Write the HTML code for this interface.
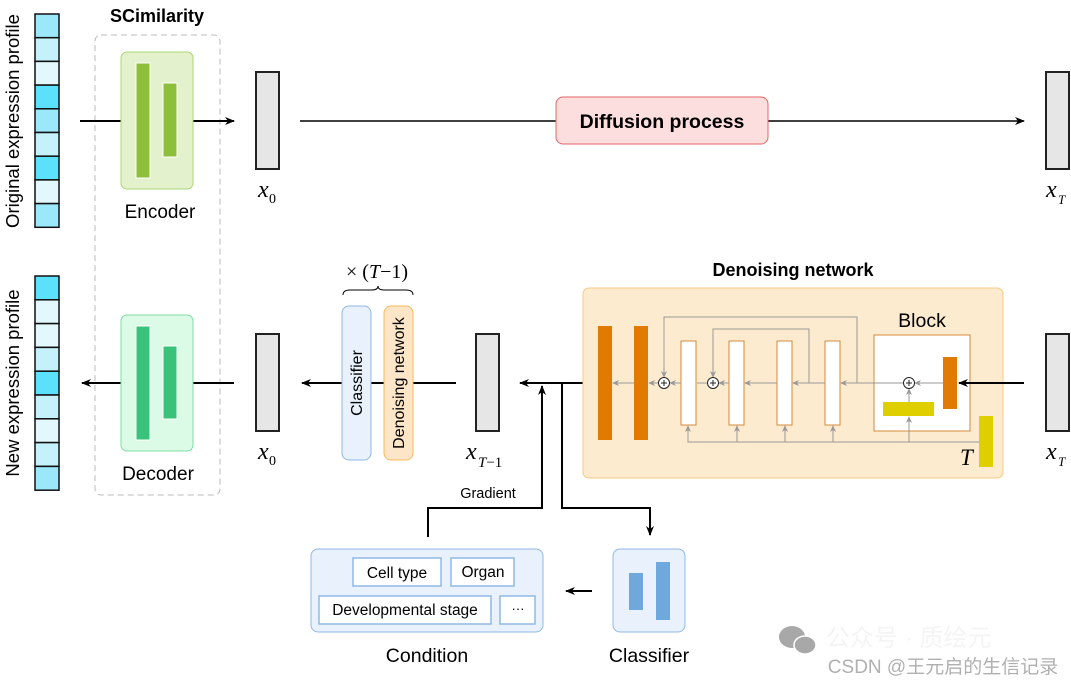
<!DOCTYPE html>
<html><head><meta charset="utf-8"><style>
html,body{margin:0;padding:0;background:#fff;}
svg{display:block;font-family:"Liberation Sans","Noto Sans CJK SC",sans-serif;}
.m{font-family:"Liberation Serif",serif;font-style:italic;}
</style></head><body>
<svg width="1071" height="685" viewBox="0 0 1071 685" xmlns="http://www.w3.org/2000/svg">
<defs>
<marker id="a" markerWidth="10" markerHeight="8" refX="9" refY="4" orient="auto" markerUnits="userSpaceOnUse"><path d="M0,0 L10,4 L0,8 L3,4 z" fill="#000"/></marker>
<marker id="g" markerWidth="7" markerHeight="6" refX="6" refY="3" orient="auto" markerUnits="userSpaceOnUse"><path d="M0,0 L7,3 L0,6 L2,3 z" fill="#999"/></marker>
</defs>
<g stroke="#111" stroke-width="1.5">
<rect x="35" y="14" width="24" height="23.7" fill="#9be8fa"/>
<rect x="35" y="37.7" width="24" height="23.7" fill="#c5f1fb"/>
<rect x="35" y="61.4" width="24" height="23.7" fill="#e2f8fd"/>
<rect x="35" y="85.1" width="24" height="23.7" fill="#5ce1fd"/>
<rect x="35" y="108.8" width="24" height="23.7" fill="#9be8fa"/>
<rect x="35" y="132.5" width="24" height="23.7" fill="#c5f1fb"/>
<rect x="35" y="156.2" width="24" height="23.7" fill="#5ce1fd"/>
<rect x="35" y="179.9" width="24" height="23.7" fill="#e2f8fd"/>
<rect x="35" y="203.6" width="24" height="23.7" fill="#9be8fa"/>
<rect x="35" y="276" width="24" height="23.8" fill="#5ce1fd"/>
<rect x="35" y="299.8" width="24" height="23.8" fill="#e2f8fd"/>
<rect x="35" y="323.6" width="24" height="23.8" fill="#e2f8fd"/>
<rect x="35" y="347.4" width="24" height="23.8" fill="#c5f1fb"/>
<rect x="35" y="371.2" width="24" height="23.8" fill="#5ce1fd"/>
<rect x="35" y="395" width="24" height="23.8" fill="#c5f1fb"/>
<rect x="35" y="418.8" width="24" height="23.8" fill="#e2f8fd"/>
<rect x="35" y="442.6" width="24" height="23.8" fill="#c5f1fb"/>
<rect x="35" y="466.4" width="24" height="23.8" fill="#9be8fa"/>
</g>
<text transform="translate(19,121) rotate(-90)" text-anchor="middle" font-size="18.5" fill="#000">Original expression profile</text>
<text transform="translate(19,383) rotate(-90)" text-anchor="middle" font-size="18.5" fill="#000">New expression profile</text>
<rect x="95" y="35" width="125" height="460" rx="6" fill="none" stroke="#bbb" stroke-width="1" stroke-dasharray="6,4"/>
<text x="157" y="22" text-anchor="middle" font-size="18" font-weight="bold">SCimilarity</text>
<line x1="80" y1="121" x2="234" y2="121" stroke="#000" stroke-width="2" marker-end="url(#a)"/>
<rect x="121" y="52" width="72" height="137" rx="6" fill="#e3f2cd" stroke="#a8d774"/>
<rect x="136" y="63" width="14" height="115" fill="#8dbf3a" stroke="#fff"/>
<rect x="163" y="83" width="14" height="74" fill="#8dbf3a" stroke="#fff"/>
<text x="160" y="218" text-anchor="middle" font-size="19">Encoder</text>
<line x1="234" y1="383" x2="82" y2="383" stroke="#000" stroke-width="2" marker-end="url(#a)"/>
<rect x="121" y="315" width="72" height="136" rx="6" fill="#dcfbe7" stroke="#7fdca6"/>
<rect x="136" y="326" width="14" height="114" fill="#39c27a" stroke="#fff"/>
<rect x="163" y="346" width="14" height="73" fill="#39c27a" stroke="#fff"/>
<text x="158" y="480" text-anchor="middle" font-size="19">Decoder</text>
<rect x="256" y="72" width="23" height="97" fill="#e6e6e6" stroke="#222" stroke-width="2"/>
<text x="258" y="197" class="m" font-size="24">x</text><text x="269" y="203" font-family="Liberation Serif" font-size="14">0</text>
<rect x="256" y="334" width="23" height="97" fill="#e6e6e6" stroke="#222" stroke-width="2"/>
<text x="258" y="459" class="m" font-size="24">x</text><text x="269" y="465" font-family="Liberation Serif" font-size="14">0</text>
<line x1="300" y1="121" x2="1024" y2="121" stroke="#000" stroke-width="1.5" marker-end="url(#a)"/>
<rect x="556" y="97" width="212" height="47" rx="7" fill="#fddede" stroke="#e06666"/>
<text x="662" y="128" text-anchor="middle" font-size="19.5" font-weight="bold">Diffusion process</text>
<rect x="1046" y="72" width="23" height="97" fill="#e6e6e6" stroke="#222" stroke-width="2"/>
<text x="1046" y="197" class="m" font-size="24">x</text><text x="1058" y="204" class="m" font-size="13">T</text>
<rect x="1046" y="334" width="23" height="97" fill="#e6e6e6" stroke="#222" stroke-width="2"/>
<text x="1046" y="459" class="m" font-size="24">x</text><text x="1058" y="466" class="m" font-size="13">T</text>
<line x1="456" y1="383" x2="302" y2="383" stroke="#000" stroke-width="2" marker-end="url(#a)"/>
<rect x="342" y="306" width="29" height="154" rx="7" fill="#e8f1fc" stroke="#8fb8e6"/>
<rect x="384" y="306" width="29" height="154" rx="7" fill="#fde6c8" stroke="#f5b961"/>
<text transform="translate(362,383) rotate(-90)" text-anchor="middle" font-size="16">Classifier</text>
<text transform="translate(404,383) rotate(-90)" text-anchor="middle" font-size="16">Denoising network</text>
<text x="377" y="278" text-anchor="middle" font-family="Liberation Serif" font-size="20">× (<tspan font-style="italic">T</tspan>−1)</text>
<path d="M343,295 Q343,290 350,290 L372,290 Q378,290 378,286 Q378,290 384,290 L406,290 Q413,290 413,295" fill="none" stroke="#000" stroke-width="1"/>
<rect x="476" y="334" width="23" height="97" fill="#e6e6e6" stroke="#222" stroke-width="2"/>
<text x="466" y="459" class="m" font-size="24">x</text><text x="478" y="467" class="m" font-size="15">T<tspan font-style="normal">−1</tspan></text>
<line x1="597" y1="383" x2="520" y2="383" stroke="#000" stroke-width="2" marker-end="url(#a)"/>
<polyline points="428,537 428,508 542,508 542,386" fill="none" stroke="#000" stroke-width="2" marker-end="url(#a)"/>
<polyline points="562,383 562,508 650,508 650,535" fill="none" stroke="#000" stroke-width="2" marker-end="url(#a)"/>
<text x="488" y="498" text-anchor="middle" font-size="14.5">Gradient</text>
<rect x="311" y="549" width="232" height="83" rx="7" fill="#e8f1fc" stroke="#8fb8e6"/>
<g fill="#fff" stroke="#8fb8e6" stroke-width="1.5">
<rect x="353" y="558" width="88" height="28"/><rect x="451" y="558" width="63" height="28"/>
<rect x="319" y="596" width="172" height="28"/><rect x="500" y="596" width="35" height="28"/>
</g>
<text x="397" y="578" text-anchor="middle" font-size="15.5">Cell type</text>
<text x="483" y="577" text-anchor="middle" font-size="15.5">Organ</text>
<text x="405" y="615" text-anchor="middle" font-size="15.5">Developmental stage</text>
<text x="518" y="613" text-anchor="middle" font-size="13">···</text>
<text x="427" y="662" text-anchor="middle" font-size="19.5">Condition</text>
<line x1="592" y1="591" x2="566" y2="591" stroke="#000" stroke-width="2" marker-end="url(#a)"/>
<rect x="613" y="549" width="72" height="83" rx="7" fill="#e8f1fc" stroke="#8fb8e6"/>
<rect x="629" y="573" width="14" height="37" fill="#6fa8dc"/>
<rect x="656" y="562" width="14" height="58" fill="#6fa8dc"/>
<text x="649" y="662" text-anchor="middle" font-size="19.5">Classifier</text>
<text x="793" y="276" text-anchor="middle" font-size="18" font-weight="bold">Denoising network</text>
<rect x="583" y="288" width="420" height="190" rx="6" fill="#fdebd0" stroke="#f7c980"/>
<rect x="598" y="326" width="14" height="114" fill="#e07b00"/>
<rect x="634" y="326" width="14" height="114" fill="#e07b00"/>
<g fill="#fff" stroke="#d4893a" stroke-width="1">
<rect x="681" y="341" width="15" height="84"/><rect x="729" y="341" width="15" height="84"/>
<rect x="777" y="341" width="15" height="84"/><rect x="825" y="341" width="15" height="84"/>
<rect x="874" y="335" width="96" height="96"/>
</g>
<text x="922" y="327" text-anchor="middle" font-size="19.5">Block</text>
<rect x="943" y="357" width="14" height="52" fill="#e07b00"/>
<rect x="883" y="402" width="51" height="14" fill="#e0cf00"/>
<rect x="979" y="416" width="14" height="51" fill="#e0cf00"/>
<text x="960" y="465" class="m" font-size="23">T</text>
<g stroke="#999" stroke-width="1" fill="none">
<line x1="943" y1="383" x2="915" y2="383" marker-end="url(#g)"/>
<line x1="903" y1="383" x2="841" y2="383" marker-end="url(#g)"/>
<line x1="825" y1="383" x2="793" y2="383" marker-end="url(#g)"/>
<line x1="777" y1="383" x2="745" y2="383" marker-end="url(#g)"/>
<line x1="729" y1="383" x2="719" y2="383" marker-end="url(#g)"/>
<line x1="707" y1="383" x2="697" y2="383"/>
<line x1="681" y1="383" x2="670" y2="383" marker-end="url(#g)"/>
<line x1="658" y1="383" x2="649" y2="383" marker-end="url(#g)"/>
<line x1="634" y1="383" x2="613" y2="383" marker-end="url(#g)"/>
<polyline points="857,383 857,317 664,317 664,377" marker-end="url(#g)"/>
<polyline points="809,383 809,329 713,329 713,377" marker-end="url(#g)"/>
<polyline points="979,442 688,442 688,426" marker-end="url(#g)"/>
<line x1="737" y1="442" x2="737" y2="426" marker-end="url(#g)"/>
<line x1="785" y1="442" x2="785" y2="426" marker-end="url(#g)"/>
<line x1="833" y1="442" x2="833" y2="426" marker-end="url(#g)"/>
<line x1="909" y1="442" x2="909" y2="417" marker-end="url(#g)"/>
<line x1="909" y1="402" x2="909" y2="389" marker-end="url(#g)"/>
</g>
<g fill="#fff" stroke="#222" stroke-width="1">
<circle cx="664" cy="383" r="5.5"/><circle cx="713" cy="383" r="5.5"/><circle cx="909" cy="383" r="5.5"/>
</g>
<g stroke="#222" stroke-width="1">
<path d="M661,383 h6 M664,380 v6 M710,383 h6 M713,380 v6 M906,383 h6 M909,380 v6"/>
</g>
<line x1="1024" y1="383" x2="959" y2="383" stroke="#000" stroke-width="2" marker-end="url(#a)"/>
<g fill="#a8a8a8"><ellipse cx="792" cy="637" rx="13" ry="11"/><ellipse cx="805" cy="645" rx="11" ry="9" stroke="#fff" stroke-width="1.5"/></g>
<text x="826" y="646" font-size="24" fill="#f4f4f4">公众号 · 质绘元</text>
<text x="943" y="673" text-anchor="middle" font-size="19" fill="#b0b0b0">CSDN @王元启的生信记录</text>
</svg>
</body></html>
